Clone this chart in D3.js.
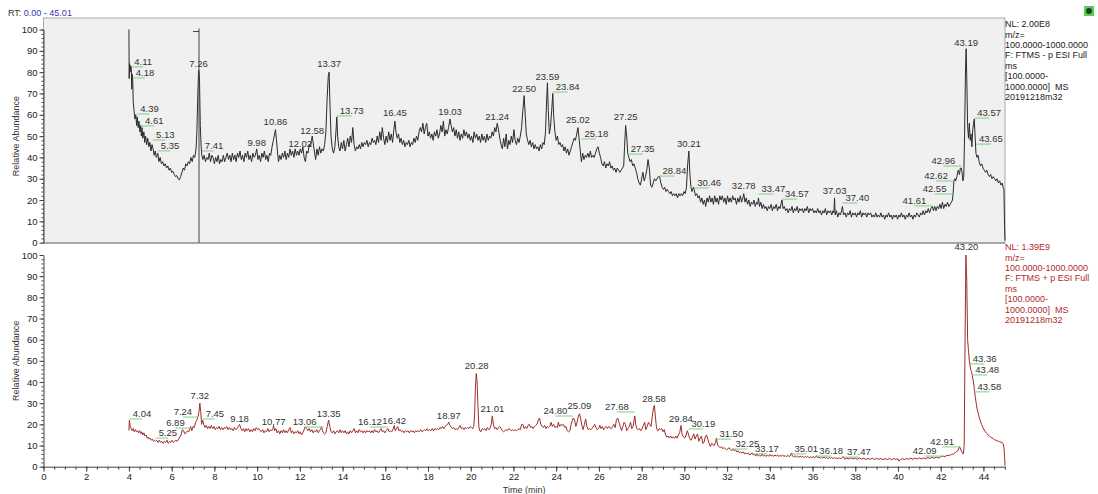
<!DOCTYPE html>
<html>
<head>
<meta charset="utf-8">
<script src="https://cdn.jsdelivr.net/npm/d3@7"></script>
<style>
  body { margin: 0; background: #fff; }
  svg { display: block; font-family: "Liberation Sans", Arial, sans-serif; }
</style>
</head>
<body>
<div id="chartContainer"></div>
<script>
/* Chromatogram: two stacked TIC traces (ESI- on top, ESI+ below) */

// retention time axis
const rtRange = [0, 45.01];
const xTicks = d3.range(0, 45, 2);
const yTicks = d3.range(0, 101, 10);

// ESI negative trace [time, relative abundance]
const negTrace = [
  [4.00,100],[4.01,77],[4.03,84],[4.05,80],[4.08,83],[4.11,82],[4.13,72],[4.15,79],[4.18,76],[4.20,66],
  [4.24,62],[4.28,58],[4.32,60],[4.36,55],[4.39,59],[4.43,54],[4.47,57],[4.51,52],[4.55,55],[4.58,50],
  [4.61,54],[4.65,49],[4.70,52],[4.74,47],[4.78,50],[4.83,46],[4.88,49],[4.93,45],[4.98,47],[5.03,43],
  [5.08,46],[5.13,44],[5.18,41],[5.23,43],[5.28,40],[5.35,42],[5.40,38],[5.46,40],[5.52,37],[5.58,38],
  [5.64,36],[5.70,37],[5.76,35],[5.82,36],[5.88,34],[5.94,35],[6.00,33],[6.06,33.5],[6.12,32],[6.18,31],
  [6.24,31.5],[6.30,30],[6.36,29.5],[6.42,31],[6.48,33],[6.54,35],[6.60,34],[6.66,37],[6.72,36],[6.78,38],
  [6.84,37],[6.90,40],[6.96,38],[7.02,41],[7.08,40],[7.14,44],[7.18,52],[7.22,68],[7.26,81],[7.30,78],
  [7.34,55],[7.38,45],[7.41,41],[7.46,39],[7.52,41],[7.58,38],[7.64,40],[7.70,39],[7.76,42],[7.82,38],
  [7.88,41],[7.94,40],[8.00,37],[8.06,40],[8.12,38],[8.18,41],[8.24,37],[8.30,39],[8.36,38],[8.42,41],
  [8.48,38],[8.54,40],[8.60,42],[8.66,39],[8.72,41],[8.78,38],[8.84,42],[8.90,39],[8.96,41],[9.02,38],
  [9.08,42],[9.14,40],[9.20,43],[9.26,39],[9.32,41],[9.38,38],[9.44,42],[9.50,40],[9.56,43],[9.62,39],
  [9.68,41],[9.74,38],[9.80,42],[9.86,40],[9.92,41],[9.98,44],[10.04,39],[10.10,41],[10.16,38],[10.22,42],
  [10.28,40],[10.34,43],[10.40,39],[10.46,41],[10.52,38],[10.58,42],[10.64,41],[10.70,45],[10.76,48],[10.82,51],
  [10.86,53],[10.90,49],[10.95,43],[11.00,38],[11.06,41],[11.12,39],[11.18,42],[11.24,40],[11.30,43],[11.36,39],
  [11.42,42],[11.48,40],[11.54,44],[11.60,41],[11.66,43],[11.72,40],[11.78,44],[11.84,41],[11.90,43],[11.96,41],
  [12.02,44],[12.08,42],[12.14,45],[12.20,40],[12.26,38],[12.32,43],[12.38,42],[12.44,46],[12.50,45],[12.54,48],
  [12.58,50],[12.62,47],[12.68,43],[12.74,39],[12.80,44],[12.86,41],[12.92,45],[12.98,42],[13.04,44],[13.10,43],
  [13.16,46],[13.22,52],[13.28,68],[13.33,78],[13.37,80],[13.41,65],[13.46,50],[13.52,44],[13.58,42],[13.64,45],
  [13.69,52],[13.73,59],[13.77,50],[13.82,45],[13.88,43],[13.94,47],[14.00,44],[14.06,48],[14.12,43],[14.18,46],
  [14.24,49],[14.30,45],[14.36,50],[14.42,47],[14.48,54],[14.54,46],[14.60,43],[14.66,45],[14.72,44],[14.78,46],
  [14.84,44],[14.90,47],[14.96,45],[15.02,47],[15.08,46],[15.14,48],[15.20,45],[15.26,47],[15.32,46],[15.38,49],
  [15.44,47],[15.50,48],[15.56,46],[15.62,50],[15.68,47],[15.74,52],[15.80,48],[15.86,54],[15.92,49],[15.98,46],
  [16.04,50],[16.10,47],[16.16,52],[16.22,48],[16.28,51],[16.34,47],[16.40,53],[16.45,57],[16.50,52],[16.56,49],
  [16.62,51],[16.68,47],[16.74,49],[16.80,46],[16.86,48],[16.92,45],[16.98,47],[17.04,46],[17.10,48],[17.16,45],
  [17.22,47],[17.28,46],[17.34,49],[17.40,47],[17.46,50],[17.52,48],[17.58,52],[17.64,54],[17.70,52],[17.76,56],
  [17.82,51],[17.88,54],[17.94,56],[18.00,50],[18.06,52],[18.12,49],[18.18,51],[18.24,48],[18.30,52],[18.36,50],
  [18.42,53],[18.48,49],[18.54,51],[18.60,55],[18.66,52],[18.72,57],[18.78,50],[18.84,53],[18.90,51],[18.96,54],
  [19.03,58],[19.08,55],[19.14,52],[19.20,54],[19.26,50],[19.32,53],[19.38,49],[19.44,52],[19.50,48],[19.56,51],
  [19.62,49],[19.68,53],[19.74,50],[19.80,52],[19.86,49],[19.92,51],[19.98,48],[20.04,50],[20.10,47],[20.16,52],
  [20.22,49],[20.28,51],[20.34,48],[20.40,50],[20.46,47],[20.52,51],[20.58,48],[20.64,50],[20.70,47],[20.76,51],
  [20.82,48],[20.88,50],[20.94,49],[21.00,52],[21.06,50],[21.12,54],[21.18,52],[21.24,56],[21.30,53],[21.36,49],
  [21.42,46],[21.48,44],[21.54,49],[21.60,45],[21.66,51],[21.72,44],[21.78,48],[21.84,46],[21.90,50],[21.96,47],
  [22.02,53],[22.08,48],[22.14,46],[22.20,49],[22.26,47],[22.32,50],[22.38,54],[22.44,62],[22.50,69],[22.55,60],
  [22.60,51],[22.66,48],[22.72,46],[22.78,48],[22.84,45],[22.90,47],[22.96,44],[23.02,46],[23.08,44],[23.14,45],
  [23.20,43],[23.26,46],[23.32,44],[23.38,47],[23.44,46],[23.50,52],[23.55,66],[23.59,75],[23.63,62],[23.68,51],
  [23.73,54],[23.79,62],[23.84,70],[23.88,60],[23.94,52],[24.00,48],[24.06,50],[24.12,46],[24.18,47],[24.24,45],
  [24.30,46],[24.36,43],[24.42,45],[24.48,42],[24.54,44],[24.60,41],[24.66,43],[24.72,45],[24.78,47],[24.84,49],
  [24.90,48],[24.96,51],[25.02,54],[25.07,49],[25.12,44],[25.18,38],[25.24,42],[25.30,39],[25.36,41],[25.42,40],
  [25.48,42],[25.54,40],[25.60,43],[25.66,40],[25.72,41],[25.78,40],[25.84,42],[25.90,44],[25.96,45],[26.02,42],
  [26.08,40],[26.14,37],[26.20,36],[26.26,38],[26.32,35],[26.38,37],[26.44,36],[26.50,38],[26.56,35],[26.62,36],
  [26.68,34],[26.74,35],[26.80,33],[26.86,35],[26.92,34],[26.98,33],[27.04,34],[27.10,35],[27.16,36],[27.20,45],
  [27.25,55],[27.30,50],[27.35,42],[27.40,40],[27.46,38],[27.52,39],[27.58,36],[27.64,37],[27.70,35],[27.76,33],
  [27.82,30],[27.88,28],[27.94,27],[28.00,30],[28.06,33],[28.12,29],[28.18,31],[28.24,34],[28.30,39],[28.36,35],
  [28.42,27],[28.48,26],[28.54,28],[28.60,30],[28.66,29],[28.72,30],[28.78,31],[28.84,31],[28.90,28],[28.96,26],
  [29.02,25],[29.08,26],[29.14,24],[29.20,25],[29.26,24],[29.32,23],[29.38,24],[29.44,22],[29.50,23],[29.56,22],
  [29.62,23],[29.68,21],[29.74,23],[29.80,22],[29.86,23],[29.92,22],[29.98,24],[30.04,23],[30.10,26],[30.15,36],
  [30.21,43],[30.26,32],[30.31,26],[30.36,24],[30.42,26],[30.46,25],[30.52,22],[30.58,23],[30.64,21],[30.70,22],
  [30.76,19],[30.82,21],[30.88,18],[30.94,20],[31.00,17],[31.06,21],[31.12,19],[31.18,22],[31.24,19],[31.30,21],
  [31.36,18],[31.42,22],[31.48,19],[31.54,21],[31.60,18],[31.66,22],[31.72,20],[31.78,22],[31.84,19],[31.90,21],
  [31.96,18],[32.02,22],[32.08,19],[32.14,21],[32.20,19],[32.26,22],[32.32,20],[32.38,21],[32.44,18],[32.50,21],
  [32.56,19],[32.62,22],[32.68,19],[32.74,21],[32.78,23],[32.84,19],[32.90,21],[32.96,18],[33.02,20],[33.08,17],
  [33.14,19],[33.20,18],[33.26,20],[33.32,17],[33.38,19],[33.43,18],[33.47,21],[33.52,17],[33.58,19],[33.64,16],
  [33.70,18],[33.76,16],[33.82,17],[33.88,15],[33.94,17],[34.00,16],[34.06,18],[34.12,15],[34.18,17],[34.24,16],
  [34.30,18],[34.36,15],[34.42,17],[34.48,16],[34.52,18],[34.57,20],[34.62,16],[34.68,17],[34.74,15],[34.80,16],
  [34.86,14],[34.92,16],[34.98,15],[35.04,17],[35.10,14],[35.16,16],[35.22,15],[35.28,17],[35.34,14],[35.40,16],
  [35.46,15],[35.52,16],[35.58,14],[35.64,16],[35.70,15],[35.76,17],[35.82,14],[35.88,16],[35.94,15],[36.00,16],
  [36.06,14],[36.12,15],[36.18,14],[36.24,16],[36.30,14],[36.36,15],[36.42,13],[36.48,15],[36.54,14],[36.60,16],
  [36.66,13],[36.72,15],[36.78,14],[36.84,15],[36.90,13],[36.96,15],[37.00,14],[37.03,21],[37.06,13],[37.12,15],
  [37.18,12],[37.24,14],[37.30,13],[37.36,15],[37.40,17],[37.45,13],[37.52,14],[37.58,12],[37.64,14],[37.70,13],
  [37.76,15],[37.82,12],[37.88,14],[37.94,13],[38.00,14],[38.06,12],[38.12,14],[38.18,13],[38.24,15],[38.30,12],
  [38.36,14],[38.42,13],[38.48,14],[38.54,12],[38.60,14],[38.66,13],[38.72,14],[38.78,12],[38.84,13],[38.90,12],
  [38.96,14],[39.02,12],[39.08,13],[39.14,12],[39.20,14],[39.26,12],[39.32,13],[39.38,11],[39.44,13],[39.50,12],
  [39.56,14],[39.62,12],[39.68,13],[39.74,11],[39.80,13],[39.86,12],[39.92,13],[39.98,11],[40.04,13],[40.10,12],
  [40.16,14],[40.22,12],[40.28,13],[40.34,11],[40.40,13],[40.46,12],[40.52,14],[40.58,12],[40.64,13],[40.70,11],
  [40.76,13],[40.82,12],[40.88,14],[40.94,13],[41.00,12],[41.06,14],[41.12,13],[41.18,15],[41.24,13],[41.30,15],
  [41.36,14],[41.42,16],[41.48,14],[41.54,16],[41.61,17],[41.66,15],[41.72,17],[41.78,15],[41.84,17],[41.90,16],
  [41.96,18],[42.02,16],[42.08,19],[42.14,16],[42.20,18],[42.26,17],[42.32,19],[42.38,17],[42.44,18],[42.50,19],
  [42.55,20],[42.58,23],[42.62,29],[42.66,30],[42.70,29],[42.76,31],[42.82,34],[42.88,32],[42.92,35],[42.96,35],
  [43.00,33],[43.04,29],[43.08,31],[43.12,52],[43.16,80],[43.19,91],[43.22,78],[43.26,55],[43.30,49],[43.34,56],
  [43.38,48],[43.42,51],[43.46,45],[43.50,53],[43.54,56],[43.57,58],[43.61,50],[43.65,42],[43.70,40],[43.75,41],
  [43.80,38],[43.86,36],[43.92,37],[43.98,35],[44.04,34],[44.10,33],[44.16,34],[44.22,32],[44.28,31],[44.34,32],
  [44.40,30],[44.46,31],[44.52,30],[44.58,29],[44.64,30],[44.70,28],[44.76,29],[44.82,27],[44.88,28],[44.92,26],
  [44.96,25],[44.99,8],[45.01,1]
];

// ESI positive trace [time, relative abundance]
const posTrace = [
  [4.00,17],[4.02,22],[4.06,19],[4.10,18],[4.15,17],[4.20,18],[4.25,16.5],[4.30,17.5],[4.35,16.5],[4.40,17],
  [4.45,16],[4.50,17],[4.55,15.5],[4.60,16.5],[4.65,15],[4.70,16],[4.75,14.5],[4.80,15],[4.85,13.5],[4.90,14],
  [4.95,13],[5.00,13.5],[5.05,12.5],[5.10,13],[5.15,12],[5.20,12.5],[5.25,12],[5.30,12.5],[5.36,11.5],[5.42,12.5],
  [5.48,11.5],[5.54,12],[5.60,11],[5.66,12],[5.72,11.5],[5.78,12.5],[5.84,11],[5.90,12],[5.96,11.5],[6.02,12.5],
  [6.08,11.5],[6.14,12],[6.20,12.5],[6.26,12],[6.32,13],[6.38,14],[6.44,15],[6.50,17.5],[6.56,17],[6.62,15.5],
  [6.68,16],[6.74,17],[6.80,16.5],[6.86,18],[6.89,19],[6.94,17],[7.00,19],[7.06,18.5],[7.12,21],[7.18,22],
  [7.24,24],[7.28,26],[7.32,30],[7.36,26],[7.40,20],[7.45,22],[7.50,20],[7.56,18.5],[7.62,19.5],[7.68,18],
  [7.74,19],[7.80,18],[7.86,19.5],[7.92,18],[7.98,19],[8.04,17.5],[8.10,18.5],[8.16,18],[8.22,19],[8.28,17.5],
  [8.34,18.5],[8.40,17.5],[8.46,18.5],[8.52,18],[8.58,19],[8.64,17.5],[8.70,18.5],[8.76,17.5],[8.82,18],[8.88,17],
  [8.94,18.5],[9.00,17.5],[9.06,18],[9.12,19],[9.18,20],[9.24,18],[9.30,17],[9.36,18],[9.42,16.5],[9.48,18],
  [9.54,17],[9.60,18],[9.66,16.5],[9.72,17.5],[9.78,16.5],[9.84,18],[9.90,17],[9.96,18.5],[10.02,17.5],[10.08,18],
  [10.14,17],[10.20,16.5],[10.26,17.5],[10.32,16],[10.38,17],[10.44,16.5],[10.50,18],[10.56,16.5],[10.62,17.5],[10.68,17],
  [10.74,18],[10.77,19.5],[10.82,17],[10.88,18],[10.94,16],[11.00,17],[11.06,15.5],[11.12,17],[11.18,16],[11.24,17.5],
  [11.30,16],[11.36,17],[11.42,16],[11.48,17.5],[11.54,18.5],[11.60,16],[11.66,17],[11.72,15.5],[11.78,16.5],[11.84,16],
  [11.90,17],[11.96,15.5],[12.02,16.5],[12.08,15],[12.14,16],[12.20,17.5],[12.26,19],[12.32,18],[12.38,17],[12.44,18],
  [12.50,16.5],[12.56,17.5],[12.62,16],[12.68,17],[12.74,16.5],[12.80,17.5],[12.86,16],[12.92,17],[12.98,18],[13.02,19],
  [13.06,17],[13.10,16],[13.16,15.5],[13.22,16],[13.28,19],[13.35,22],[13.40,19],[13.46,16.5],[13.52,16],[13.58,17],
  [13.64,15.5],[13.70,16.5],[13.76,17],[13.82,16],[13.88,17.5],[13.94,16],[14.00,17],[14.06,16],[14.12,17],[14.18,15.5],
  [14.24,16.5],[14.30,15.5],[14.36,17],[14.42,16],[14.48,17],[14.54,18],[14.60,16],[14.66,17],[14.72,16],[14.78,17.5],
  [14.84,16.5],[14.90,17],[14.96,16],[15.02,17],[15.08,16],[15.14,17],[15.20,16.5],[15.26,17],[15.32,16],[15.38,17],
  [15.44,16],[15.50,17.5],[15.56,16.5],[15.62,17],[15.68,16],[15.74,17],[15.80,18],[15.86,16.5],[15.92,17],[15.98,16],
  [16.04,17],[16.12,18],[16.18,16.5],[16.24,17],[16.30,16.5],[16.36,17.5],[16.42,19.5],[16.47,17],[16.52,18],[16.58,19],
  [16.64,17],[16.70,17.5],[16.76,16.5],[16.82,17],[16.88,16],[16.94,17],[17.00,16.5],[17.06,17],[17.12,16],[17.18,17],
  [17.24,16.5],[17.30,17],[17.36,16],[17.42,17],[17.48,16.5],[17.54,17],[17.60,16.5],[17.66,17.5],[17.72,16.5],[17.78,17],
  [17.84,17.5],[17.90,17],[17.96,18],[18.02,17],[18.08,17.5],[18.14,17],[18.20,18],[18.26,17],[18.32,18],[18.38,17.5],
  [18.44,18],[18.50,17.5],[18.56,18.5],[18.62,18],[18.68,19],[18.74,18],[18.80,19],[18.86,19.5],[18.92,20],[18.97,21],
  [19.02,19.5],[19.08,19],[19.14,18],[19.20,18.5],[19.26,17.5],[19.32,18],[19.38,17.5],[19.44,18.5],[19.50,19.5],[19.56,18],
  [19.62,18.5],[19.68,17.5],[19.74,18.5],[19.80,18],[19.86,18.5],[19.92,18],[19.98,19],[20.04,18.5],[20.10,18],[20.14,19],
  [20.18,24],[20.22,38],[20.26,44],[20.30,40],[20.34,28],[20.38,19],[20.42,17],[20.48,16.5],[20.54,18],[20.60,17.5],
  [20.66,18],[20.72,17],[20.78,18.5],[20.84,17.5],[20.90,18],[20.96,20],[21.01,24],[21.06,20],[21.12,18],[21.18,18.5],
  [21.24,17.5],[21.30,18.5],[21.36,19],[21.42,18],[21.48,17],[21.54,16.5],[21.60,17],[21.66,17.5],[21.72,17],[21.78,18],
  [21.84,17.5],[21.90,17],[21.96,17.5],[22.02,17],[22.08,17.5],[22.14,17],[22.20,17.5],[22.26,18],[22.32,17.5],[22.38,20],
  [22.44,20],[22.50,18],[22.56,19],[22.62,18],[22.68,19.5],[22.74,20],[22.80,18.5],[22.86,19],[22.92,18],[22.98,19],
  [23.04,19.5],[23.10,20],[23.16,22],[23.22,23],[23.28,20],[23.34,19],[23.40,18.5],[23.46,19.5],[23.52,18],[23.58,19],
  [23.64,18.5],[23.70,19],[23.76,21],[23.82,19],[23.88,20],[23.94,18.5],[24.00,19],[24.06,18.5],[24.10,21],[24.16,19],
  [24.22,20],[24.28,19.5],[24.34,20],[24.40,18.5],[24.46,19],[24.52,17],[24.58,16.5],[24.64,17],[24.70,20],[24.76,22],
  [24.80,23],[24.86,22],[24.92,19],[24.98,21],[25.04,24],[25.09,25],[25.14,23],[25.20,19.5],[25.26,17.5],[25.32,20],
  [25.38,22.5],[25.44,19],[25.50,17.5],[25.56,18],[25.62,17.5],[25.68,18],[25.74,19],[25.80,20],[25.86,18.5],[25.92,17.5],
  [25.98,18],[26.04,19.5],[26.10,18],[26.16,19],[26.22,17.5],[26.28,18.5],[26.34,19],[26.40,18],[26.46,19],[26.52,18.5],
  [26.58,18],[26.64,19],[26.70,20],[26.76,18.5],[26.82,22],[26.88,23],[26.94,21],[27.00,19],[27.06,17],[27.12,19],
  [27.18,21],[27.24,20],[27.30,17],[27.36,18],[27.42,19],[27.48,21],[27.54,18],[27.60,19],[27.68,24],[27.72,20],
  [27.78,18],[27.84,17.5],[27.90,18],[27.96,17],[28.02,18],[28.08,19.5],[28.14,21],[28.20,17.5],[28.26,19],[28.32,21],
  [28.38,20],[28.44,19],[28.50,24],[28.56,28],[28.60,29],[28.64,24],[28.70,18],[28.76,17],[28.82,18],[28.88,17.5],
  [28.94,18],[29.00,16.5],[29.06,17.5],[29.12,15],[29.18,14],[29.24,14.5],[29.30,13.5],[29.36,14.5],[29.42,13.5],[29.48,14],
  [29.54,13.5],[29.60,14.5],[29.66,13.5],[29.72,15],[29.78,16],[29.84,19.5],[29.90,15],[29.96,14],[30.02,13.5],[30.08,15],
  [30.14,17],[30.20,15],[30.26,13],[30.32,12.5],[30.38,14],[30.44,15.5],[30.50,13],[30.56,14.5],[30.62,15.5],[30.68,12],
  [30.74,13.5],[30.80,14.5],[30.86,11],[30.92,11.5],[30.98,14],[31.04,15],[31.10,13],[31.16,11],[31.22,9.5],[31.28,11],
  [31.34,10.5],[31.40,10],[31.46,11.5],[31.50,13.5],[31.56,10],[31.62,9.5],[31.68,9],[31.74,9.5],[31.80,8.5],[31.86,9],
  [31.92,8.5],[31.98,8],[32.04,8.5],[32.10,9],[32.16,8],[32.22,7.5],[32.28,8.5],[32.34,7.5],[32.40,8],[32.46,7],
  [32.52,7.5],[32.58,6.5],[32.64,7],[32.70,6.5],[32.76,7],[32.82,6],[32.88,6.5],[32.94,6],[33.00,6.5],[33.06,5.5],
  [33.12,6],[33.17,6.5],[33.22,5.5],[33.28,6],[33.34,5],[33.40,6],[33.46,5],[33.52,5.5],[33.58,5],[33.64,6],
  [33.70,5],[33.76,5.5],[33.82,4.8],[33.88,5.5],[33.94,5],[34.00,5.8],[34.06,5],[34.12,5.5],[34.18,4.8],[34.24,5.5],
  [34.30,5],[34.36,5.6],[34.42,4.8],[34.48,5.3],[34.54,5],[34.60,5.6],[34.66,4.8],[34.72,5.3],[34.78,4.7],[34.84,5.4],
  [34.90,4.8],[34.96,5.2],[35.01,6.5],[35.06,5],[35.12,4.6],[35.18,5.2],[35.24,4.6],[35.30,5],[35.36,4.4],[35.42,5],
  [35.48,4.5],[35.54,4.9],[35.60,4.3],[35.66,4.8],[35.72,4.4],[35.78,4.9],[35.84,4.2],[35.90,4.7],[35.96,4.3],[36.02,4.8],
  [36.08,4.2],[36.14,4.6],[36.18,5.2],[36.24,4.2],[36.30,4.6],[36.36,4],[36.42,4.5],[36.48,4],[36.54,4.6],[36.60,4],
  [36.66,4.4],[36.72,3.8],[36.78,4.3],[36.84,3.9],[36.90,4.4],[36.96,3.8],[37.02,4.3],[37.08,3.8],[37.14,4.2],[37.20,3.7],
  [37.26,4.2],[37.32,3.8],[37.38,4.3],[37.42,4.8],[37.47,4],[37.52,3.6],[37.60,4.1],[37.70,3.6],[37.80,4.2],[37.90,3.7],
  [38.00,4.0],[38.10,3.5],[38.20,4.1],[38.30,3.6],[38.40,4.0],[38.50,3.4],[38.60,3.9],[38.70,3.5],[38.80,4.0],[38.90,3.4],
  [39.00,3.9],[39.10,3.5],[39.20,3.9],[39.30,3.3],[39.40,3.8],[39.50,3.4],[39.60,3.9],[39.70,3.3],[39.80,3.8],[39.90,3.5],
  [40.00,3.7],[40.05,2.6],[40.10,3.2],[40.20,3.8],[40.30,3.4],[40.40,3.9],[40.50,3.5],[40.60,4.0],[40.70,3.5],[40.80,4.1],
  [40.90,3.6],[41.00,4.2],[41.10,3.7],[41.20,4.1],[41.30,3.8],[41.40,4.3],[41.50,3.9],[41.60,4.4],[41.70,4.0],[41.80,4.5],
  [41.90,4.1],[42.00,4.7],[42.09,5.0],[42.20,4.8],[42.30,5.4],[42.40,5.2],[42.50,5.8],[42.60,6.0],[42.70,6.8],[42.80,7.5],
  [42.88,9.5],[42.91,9],[42.96,7.5],[43.02,6.5],[43.06,6],[43.10,10],[43.14,60],[43.18,100],[43.22,88],[43.26,60],
  [43.30,55],[43.34,50],[43.36,49],[43.40,46],[43.44,45],[43.48,43],[43.52,41],[43.56,38],[43.58,36],[43.62,33],
  [43.66,30],[43.70,27.5],[43.75,25.5],[43.80,23.5],[43.86,21.5],[43.92,19.8],[43.98,18.5],[44.04,17.3],[44.10,16.4],[44.16,15.6],
  [44.22,15],[44.28,14.5],[44.34,14],[44.40,13.6],[44.46,13.2],[44.52,12.8],[44.58,12.5],[44.64,12.2],[44.70,12],[44.76,11.8],
  [44.82,11.6],[44.88,11.3],[44.92,11],[44.96,9],[44.99,5],[45.01,0.5]
];

// peak labels: [rt, label height (rel. abundance), side] side 0 = centred, 1/-1 = shifted with leader
const negLabels = [
  [4.11,84.8,1],[4.18,79.6,1],[4.39,62.7,1],[4.61,57.1,1],[5.13,50.5,1],[5.35,45.4,1],[7.26,83.8,0],
  [7.41,45.4,1],[9.98,46.8,0],[10.86,56.6,0],[12.02,46.3,0],[12.58,52.4,0],[13.37,83.8,0],[13.73,61.8,1],
  [16.45,60.8,0],[19.03,61.3,0],[21.24,59,0],[22.50,72.1,0],[23.59,77.7,0],[23.84,73,1],[25.02,57.6,0],
  [25.18,51,1],[27.25,59,0],[27.35,43.9,1],[28.84,33.6,1],[30.21,46.3,0],[30.46,28,1],[32.78,26.6,0],
  [33.47,25.2,1],[34.57,22.8,1],[37.03,24.2,0],[37.40,21,1],[41.61,19.6,-1],[42.55,25.2,-1],[42.62,31.3,-1],
  [42.96,38.3,-1],[43.19,93.7,0],[43.57,60.8,1],[43.65,48.6,1]
];
const posLabels = [
  [4.04,24.9,1],[5.25,15.9,1],[6.89,20.6,-1],[7.24,25.8,-1],[7.32,33.4,0],[7.45,24.9,1],[9.18,22.5,0],
  [10.77,21.1,0],[13.06,21.1,-1],[13.35,24.9,0],[16.12,21.1,-1],[16.42,21.6,0],[18.97,23.9,0],[20.28,47.6,0],
  [21.01,27.3,0],[24.80,26.3,-1],[25.09,28.7,0],[27.68,28.2,-1],[28.58,32,0],[29.84,22.5,0],[30.19,20.2,1],
  [31.50,15.4,1],[32.25,10.7,1],[33.17,8.4,1],[35.01,8.4,1],[36.18,7.4,1],[37.47,6.9,1],[42.09,7.4,-1],
  [42.91,11.7,-1],[43.20,103.8,0],[43.36,50.9,1],[43.48,45.7,1],[43.58,37.7,1]
];

// scan marker in the upper trace
const markerRT = 7.28;

// header text blocks beside each trace
const negInfo = ["NL: 2.00E8", "m/z=", "100.0000-1000.0000", "F: FTMS - p ESI Full", "ms", "[100.0000-", "1000.0000]  MS", "20191218m32"];
const posInfo = ["NL: 1.39E9", "m/z=", "100.0000-1000.0000", "F: FTMS + p ESI Full", "ms", "[100.0000-", "1000.0000]  MS", "20191218m32"];

const width = 1098;
const height = 494;
const fontSize = 9.5;

const svg = d3.select("#chartContainer").append("svg")
  .attr("width", width)
  .attr("height", height)
  .attr("viewBox", [0, 0, width, height]);

svg.append("rect").attr("width", width).attr("height", height).attr("fill", "#fff");

// shared x scale
const x = d3.scaleLinear(rtRange, [43.5, 1005]);

// y scales for each panel
const yTop = d3.scaleLinear([0, 100], [242.7, 29.5]);
const yBot = d3.scaleLinear([0, 100], [466.7, 255]);

// top panel frame
svg.append("rect")
  .attr("x", x(0)).attr("y", 18)
  .attr("width", x(45.01) - x(0)).attr("height", 243 - 18)
  .attr("fill", "#f0f0f0")
  .attr("stroke", "#a8a8a8");
svg.append("line")
  .attr("x1", x(0)).attr("x2", x(45.01))
  .attr("y1", 243).attr("y2", 243)
  .attr("stroke", "#808080");

function drawYAxis(y) {
  // minor ticks
  svg.append("g")
    .attr("transform", `translate(${x(0)},0)`)
    .call(d3.axisLeft(y).tickValues(d3.range(0, 101, 2)).tickSize(2).tickFormat(""))
    .call(g => g.select(".domain").remove())
    .call(g => g.selectAll("line").attr("stroke", "#404040"));
  svg.append("g")
    .attr("transform", `translate(${x(0)},0)`)
    .call(d3.axisLeft(y).tickValues(yTicks).tickSize(4).tickSizeOuter(0).tickPadding(2))
    .call(g => g.select(".domain").attr("stroke", "#404040"))
    .call(g => g.selectAll("line").attr("stroke", "#404040"))
    .call(g => g.selectAll("text")
      .attr("font-size", fontSize)
      .attr("font-family", "Liberation Sans, Arial, sans-serif")
      .attr("fill", "#222"));
}

drawYAxis(yTop);
drawYAxis(yBot);

// x-axis under the bottom panel
svg.append("g")
  .attr("transform", `translate(0,${yBot(0)})`)
  .call(d3.axisBottom(x).tickValues(d3.range(0, 45.01, 0.5)).tickSize(3).tickFormat(""))
  .call(g => g.select(".domain").remove())
  .call(g => g.selectAll("line").attr("stroke", "#404040"));
svg.append("g")
  .attr("transform", `translate(0,${yBot(0)})`)
  .call(d3.axisBottom(x).tickValues(xTicks).tickSize(5).tickSizeOuter(0).tickPadding(2))
  .call(g => g.select(".domain").attr("stroke", "#404040"))
  .call(g => g.selectAll("line").attr("stroke", "#404040"))
  .call(g => g.selectAll("text")
    .attr("font-size", fontSize)
    .attr("font-family", "Liberation Sans, Arial, sans-serif")
    .attr("fill", "#222"));

// axis titles
svg.append("text")
  .attr("transform", `translate(19,${(yTop(0) + yTop(100)) / 2}) rotate(-90)`)
  .attr("text-anchor", "middle")
  .attr("font-size", 9)
  .attr("fill", "#333")
  .text("Relative Abundance");
svg.append("text")
  .attr("transform", `translate(19,${(yBot(0) + yBot(100)) / 2}) rotate(-90)`)
  .attr("text-anchor", "middle")
  .attr("font-size", 9)
  .attr("fill", "#333")
  .text("Relative Abundance");
svg.append("text")
  .attr("x", x(22.5)).attr("y", 493)
  .attr("text-anchor", "middle")
  .attr("font-size", 9)
  .attr("fill", "#333")
  .text("Time (min)");

// RT range header
const rt = svg.append("text").attr("x", 8).attr("y", 16).attr("font-size", 9);
rt.append("tspan").attr("fill", "#333").text("RT: ");
rt.append("tspan").attr("fill", "#3535b0").text("0.00 - 45.01");

// traces
const lineTop = d3.line().x(d => x(d[0])).y(d => yTop(d[1]));
const lineBot = d3.line().x(d => x(d[0])).y(d => yBot(d[1]));

svg.append("path")
  .attr("fill", "none")
  .attr("stroke", "#2a2a2a")
  .attr("stroke-width", 1)
  .attr("d", lineTop(negTrace));

svg.append("path")
  .attr("fill", "none")
  .attr("stroke", "#a02c2c")
  .attr("stroke-width", 1)
  .attr("d", lineBot(posTrace));

// scan marker
svg.append("line")
  .attr("x1", x(markerRT)).attr("x2", x(markerRT))
  .attr("y1", yTop(100) - 1).attr("y2", yTop(0))
  .attr("stroke", "#404040");
svg.append("line")
  .attr("x1", x(markerRT) - 6).attr("x2", x(markerRT))
  .attr("y1", yTop(100) + 2).attr("y2", yTop(100) + 2)
  .attr("stroke", "#404040");

// peak labels with green leaders
function drawLabels(labels, y) {
  const g = svg.append("g")
    .attr("font-size", fontSize)
    .attr("fill", "#333");
  labels.forEach(([t, h, side]) => {
    const px = x(t);
    const py = y(h);
    const shift = side > 0 ? 3 : -6;
    const txt = g.append("text")
      .attr("x", side === 0 ? px : px + shift)
      .attr("y", py)
      .attr("dy", "0.35em")
      .attr("text-anchor", side === 0 ? "middle" : side > 0 ? "start" : "end")
      .text(t.toFixed(2));
    if (side !== 0) {
      const w = txt.node().getComputedTextLength();
      g.append("line")
        .attr("x1", px).attr("x2", px + shift + side * w * 0.5)
        .attr("y1", py + 5).attr("y2", py + 5)
        .attr("stroke", "#7fcf7f")
        .attr("stroke-width", 1);
    }
  });
}

drawLabels(negLabels, yTop);
drawLabels(posLabels, yBot);

// info blocks on the right
function drawInfo(lines, top, color) {
  const g = svg.append("g").attr("font-size", 9).attr("fill", color);
  lines.forEach((s, i) => {
    g.append("text")
      .attr("x", 1005)
      .attr("y", top + i * 10.4)
      .attr("dy", "0.35em")
      .attr("xml:space", "preserve")
      .text(s);
  });
}

drawInfo(negInfo, 24, "#222");
drawInfo(posInfo, 247, "#b02a2a");

// little status icon, top right
svg.append("rect")
  .attr("x", 1084).attr("y", 6)
  .attr("width", 10).attr("height", 10)
  .attr("fill", "#4cd64c");
svg.append("circle")
  .attr("cx", 1089).attr("cy", 11).attr("r", 3)
  .attr("fill", "#333");
</script>
</body>
</html>
